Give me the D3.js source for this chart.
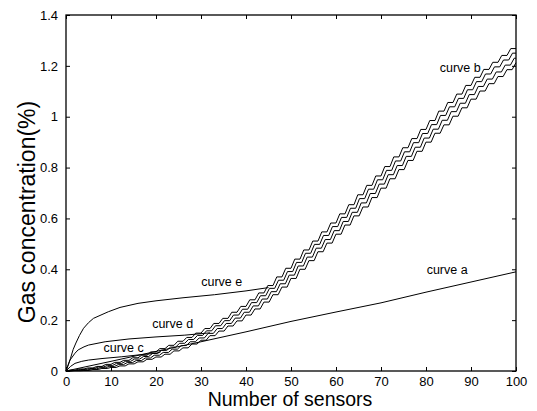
<!DOCTYPE html>
<html>
<head>
<meta charset="utf-8">
<script src="https://cdn.jsdelivr.net/npm/d3@7"></script>
<style>
body { margin:0; background:#fff; }
svg { display:block; font-family:"Liberation Sans", Arial, sans-serif; }
</style>
</head>
<body>
<svg id="chart"></svg>
<script>
// sensor counts where the b curves are sampled (every 2 sensors)
var bX = [0,2,4,6,8,10,12,14,16,18,20,22,24,26,28,30,32,34,36,38,40,42,44,46,48,50,
          52,54,56,58,60,62,64,66,68,70,72,74,76,78,80,82,84,86,88,90,92,94,96,98,100]
var b1 = [0,0.003,0.008,0.012,0.018,0.026,0.034,0.042,0.052,0.062,0.075,0.088,0.101,0.117,0.132,0.149,0.167,0.187,0.207,0.231,0.254,
          0.280,0.307,0.336,0.370,0.404,0.440,0.476,0.511,0.547,0.582,0.618,0.654,0.693,0.730,0.767,0.804,0.842,0.878,0.914,0.950,
          0.985,1.022,1.056,1.089,1.123,1.155,1.186,1.214,1.241,1.268]
var b2 = [0,0.003,0.006,0.010,0.016,0.022,0.030,0.038,0.047,0.057,0.069,0.081,0.094,0.109,0.124,0.140,0.158,0.178,0.198,0.220,0.243,
          0.269,0.296,0.325,0.357,0.391,0.427,0.463,0.498,0.533,0.568,0.604,0.640,0.678,0.715,0.752,0.789,0.826,0.862,0.898,0.934,
          0.969,1.005,1.039,1.072,1.106,1.138,1.168,1.196,1.223,1.250]
var b3 = [0,0.002,0.004,0.008,0.013,0.018,0.025,0.033,0.041,0.051,0.062,0.073,0.086,0.100,0.115,0.130,0.148,0.167,0.187,0.208,0.231,
          0.256,0.283,0.312,0.343,0.377,0.413,0.448,0.483,0.517,0.552,0.588,0.624,0.661,0.698,0.735,0.772,0.808,0.844,0.880,0.916,
          0.951,0.986,1.020,1.053,1.087,1.119,1.148,1.176,1.203,1.230]
var b4 = [0,0.001,0.002,0.006,0.010,0.014,0.020,0.028,0.036,0.046,0.055,0.066,0.079,0.091,0.106,0.121,0.139,0.157,0.177,0.197,0.220,
          0.244,0.271,0.300,0.330,0.364,0.400,0.434,0.469,0.503,0.538,0.574,0.610,0.645,0.682,0.719,0.756,0.792,0.828,0.864,0.900,
          0.935,0.968,1.002,1.035,1.069,1.101,1.130,1.158,1.185,1.212]

var aX = [0,10,20,30,40,50,60,70,80,90,100]
var aY = [0,0.038,0.077,0.115,0.154,0.195,0.232,0.268,0.310,0.350,0.390]

var cX = [0,1,2,3.5,5,8,12.4,16,20,21]
var cY = [0,0.018,0.030,0.038,0.043,0.049,0.056,0.063,0.070,0.075]

var dX = [0,0.9,2,2.7,4,5,8.7,14,20,26.4,32]
var dY = [0,0.043,0.070,0.083,0.095,0.102,0.115,0.126,0.134,0.141,0.150]

var eX = [0,1,1.6,2.2,3,3.9,5,6.1,8,9.4,12,16,20,26,33,40,45]
var eY = [0,0.050,0.085,0.110,0.140,0.168,0.190,0.207,0.222,0.233,0.250,0.266,0.276,0.288,0.300,0.315,0.328]

var xTicks = [0,10,20,30,40,50,60,70,80,90,100]
var yTicks = [0,0.2,0.4,0.6,0.8,1,1.2,1.4]
var yTickLabels = ["0","0.2","0.4","0.6","0.8","1","1.2","1.4"]

// label text and where it sits (data coords)
var curveLabels = ["curve a","curve b","curve c","curve d","curve e"]
var labelX = [84.7,87.6,12.8,23.7,34.6]
var labelY = [0.380,1.175,0.075,0.170,0.335]

var screen = {width:537, height:411}
var margins = {top:15, right:21, bottom:40, left:66}
var width = screen.width - margins.left - margins.right
var height = screen.height - margins.top - margins.bottom

var svg = d3.select("#chart")
    .attr("width", screen.width)
    .attr("height", screen.height)

var g = svg.append("g")
    .attr("transform","translate("+margins.left+","+margins.top+")")

var xScale = d3.scaleLinear().domain([0,100]).range([0,width])
var yScale = d3.scaleLinear().domain([0,1.4]).range([height,0])

// staircase between samples: flat, slanted riser, flat
// 'lag' moves the riser along the step so the four b curves cross each other
var makeStair = function(lag)
{
    var riser = 0.42
    return function(context)
    {
        var prev = null
        return {
            areaStart: function(){}, areaEnd: function(){},
            lineStart: function(){ prev = null },
            lineEnd: function(){},
            point: function(x, y)
            {
                if (!prev) { context.moveTo(x, y) }
                else
                {
                    var dx = x - prev[0]
                    context.lineTo(prev[0] + dx * lag, prev[1])
                    context.lineTo(prev[0] + dx * (lag + riser), y)
                    context.lineTo(x, y)
                }
                prev = [x, y]
            }
        }
    }
}

var zip = function(xs, ys) { return xs.map(function(x, i){ return [x, ys[i]] }) }

var line = d3.line()
    .x(function(d){ return xScale(d[0]) })
    .y(function(d){ return yScale(d[1]) })

// axes, ticks pointing inward on all four sides
var axisStyle = function(sel)
{
    sel.select(".domain").remove()
    sel.selectAll(".tick line").attr("stroke","#000").attr("stroke-width",1)
    sel.selectAll(".tick text").attr("fill","#000").style("font-size","13px")
        .style("font-family","'Liberation Sans', Arial, sans-serif")
}

g.append("g").attr("transform","translate(0,"+height+")")
    .call(d3.axisBottom(xScale).tickValues(xTicks).tickSize(-4).tickPadding(6))
    .call(axisStyle)
g.append("g")
    .call(d3.axisTop(xScale).tickValues(xTicks).tickSize(-4).tickFormat(""))
    .call(axisStyle)
g.append("g")
    .call(d3.axisLeft(yScale).tickValues(yTicks).tickSize(-4).tickPadding(8)
        .tickFormat(function(d, i){ return yTickLabels[i] }))
    .call(axisStyle)
g.append("g").attr("transform","translate("+width+",0)")
    .call(d3.axisRight(yScale).tickValues(yTicks).tickSize(-4).tickFormat(""))
    .call(axisStyle)

g.append("rect")
    .attr("width", width).attr("height", height)
    .attr("fill","none").attr("stroke","#000").attr("stroke-width",1.3)

// curves
var bSeries = [b1, b2, b3, b4]
var bLag = [0.0, 0.19, 0.38, 0.57]
g.selectAll(".bline").data(bSeries).enter()
    .append("path").attr("class","bline")
    .attr("d", function(ys, i)
    {
        var stair = d3.line()
            .x(function(d){ return xScale(d[0]) })
            .y(function(d){ return yScale(d[1]) })
            .curve(makeStair(bLag[i]))
        return stair(zip(bX, ys))
    })
    .attr("fill","none").attr("stroke","#000").attr("stroke-width",1)

var others = [zip(aX,aY), zip(cX,cY), zip(dX,dY), zip(eX,eY)]
g.selectAll(".oline").data(others).enter()
    .append("path").attr("class","oline")
    .attr("d", line)
    .attr("fill","none").attr("stroke","#000").attr("stroke-width",1)

g.selectAll(".clabel").data(curveLabels).enter()
    .append("text").attr("class","clabel")
    .attr("x", function(d, i){ return xScale(labelX[i]) })
    .attr("y", function(d, i){ return yScale(labelY[i]) })
    .attr("text-anchor","middle")
    .style("font-size","12.5px")
    .text(function(d){ return d })

// axis titles
svg.append("text")
    .attr("x", margins.left + width/2 - 1)
    .attr("y", 406)
    .attr("text-anchor","middle")
    .style("font-size","19.5px")
    .text("Number of sensors")

svg.append("text")
    .attr("transform","translate(35,212) rotate(-90)")
    .attr("text-anchor","middle")
    .style("font-size","23px")
    .text("Gas concentration(%)")
</script>
</body>
</html>
